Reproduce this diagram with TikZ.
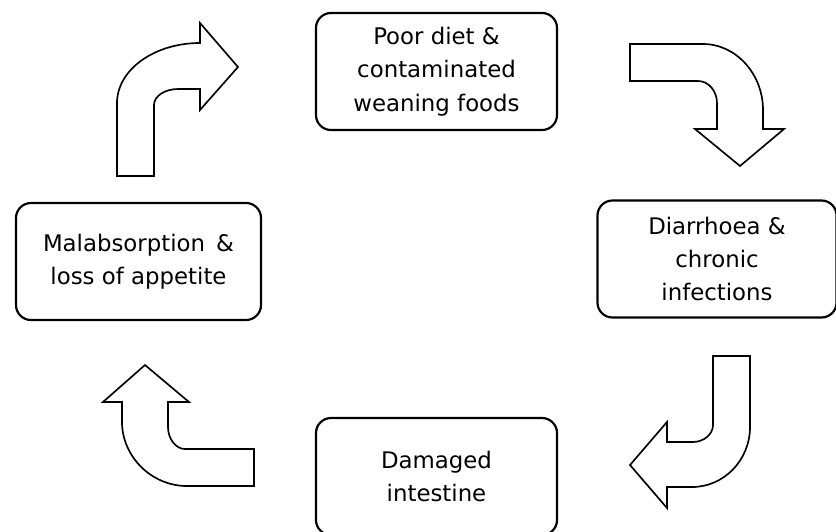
\documentclass[tikz,border=0pt]{standalone}
\usepackage{fontspec}
\setmainfont{DejaVu Sans}
\begin{document}
\begin{tikzpicture}[x=0.3mm, y=-0.3mm,
  stagebox/.style={draw, line width=0.65mm, rounded corners=4.5mm, align=center,
    minimum width=72.3mm, minimum height=35.1mm, inner sep=0pt,
    font=\fontsize{19.5pt}{28.5pt}\selectfont},
  bentarrow/.style={draw, line width=0.5mm, fill=white, line join=miter}]
  \useasboundingbox (0,0) rectangle (836,531);
  % koordinate
  \coordinate (P) at (436.5, 71.5);
  \coordinate (D) at (717, 259);
  \coordinate (I) at (436.5, 476.5);
  \coordinate (M) at (138.5, 261.5);
  % škatle
  \node [stagebox] (poor) at (P) {Poor diet \&\\contaminated\\weaning foods};
  \node [stagebox, minimum width=71.7mm] (diarr) at (D) {Diarrhoea \&\\chronic\\infections};
  \node [stagebox] (damage) at (I) {Damaged\\intestine};
  \node [stagebox, minimum width=73.5mm] (malab) at (M) {Malabsorption\, \&\\loss of appetite};
  % puščice
  \draw [bentarrow] (117,176) -- (117,103) .. controls (117,70) and (154,43) .. (200,43)
        -- (200,23) -- (238,67) -- (200,110) -- (200,89) -- (178,89)
        .. controls (165,89) and (154,96) .. (154,105) -- (154,176) -- cycle;
  \draw [bentarrow] (630,44) -- (703,44) .. controls (736,44) and (763,74) .. (763,110)
        -- (763,129) -- (784,129) -- (740,166) -- (695,129) -- (717,129) -- (717,103)
        .. controls (717,91) and (708.5,81) .. (698,81) -- (630,81) -- cycle;
  \draw [bentarrow] (713,356) -- (713,425) .. controls (713,434) and (704,442) .. (693,442)
        -- (667,442) -- (667,422) -- (630,465) -- (667,508) -- (667,487) -- (692,487)
        .. controls (724,487) and (750,460) .. (750,427) -- (750,356) -- cycle;
  \draw [bentarrow] (254,449) -- (185,449) .. controls (176,449) and (168,439) .. (168,427)
        -- (168,402) -- (189,402) -- (145,365) -- (103,402) -- (122,402) -- (122,422)
        .. controls (122,456) and (151,486) .. (187,486) -- (254,486) -- cycle;
\end{tikzpicture}
\end{document}
